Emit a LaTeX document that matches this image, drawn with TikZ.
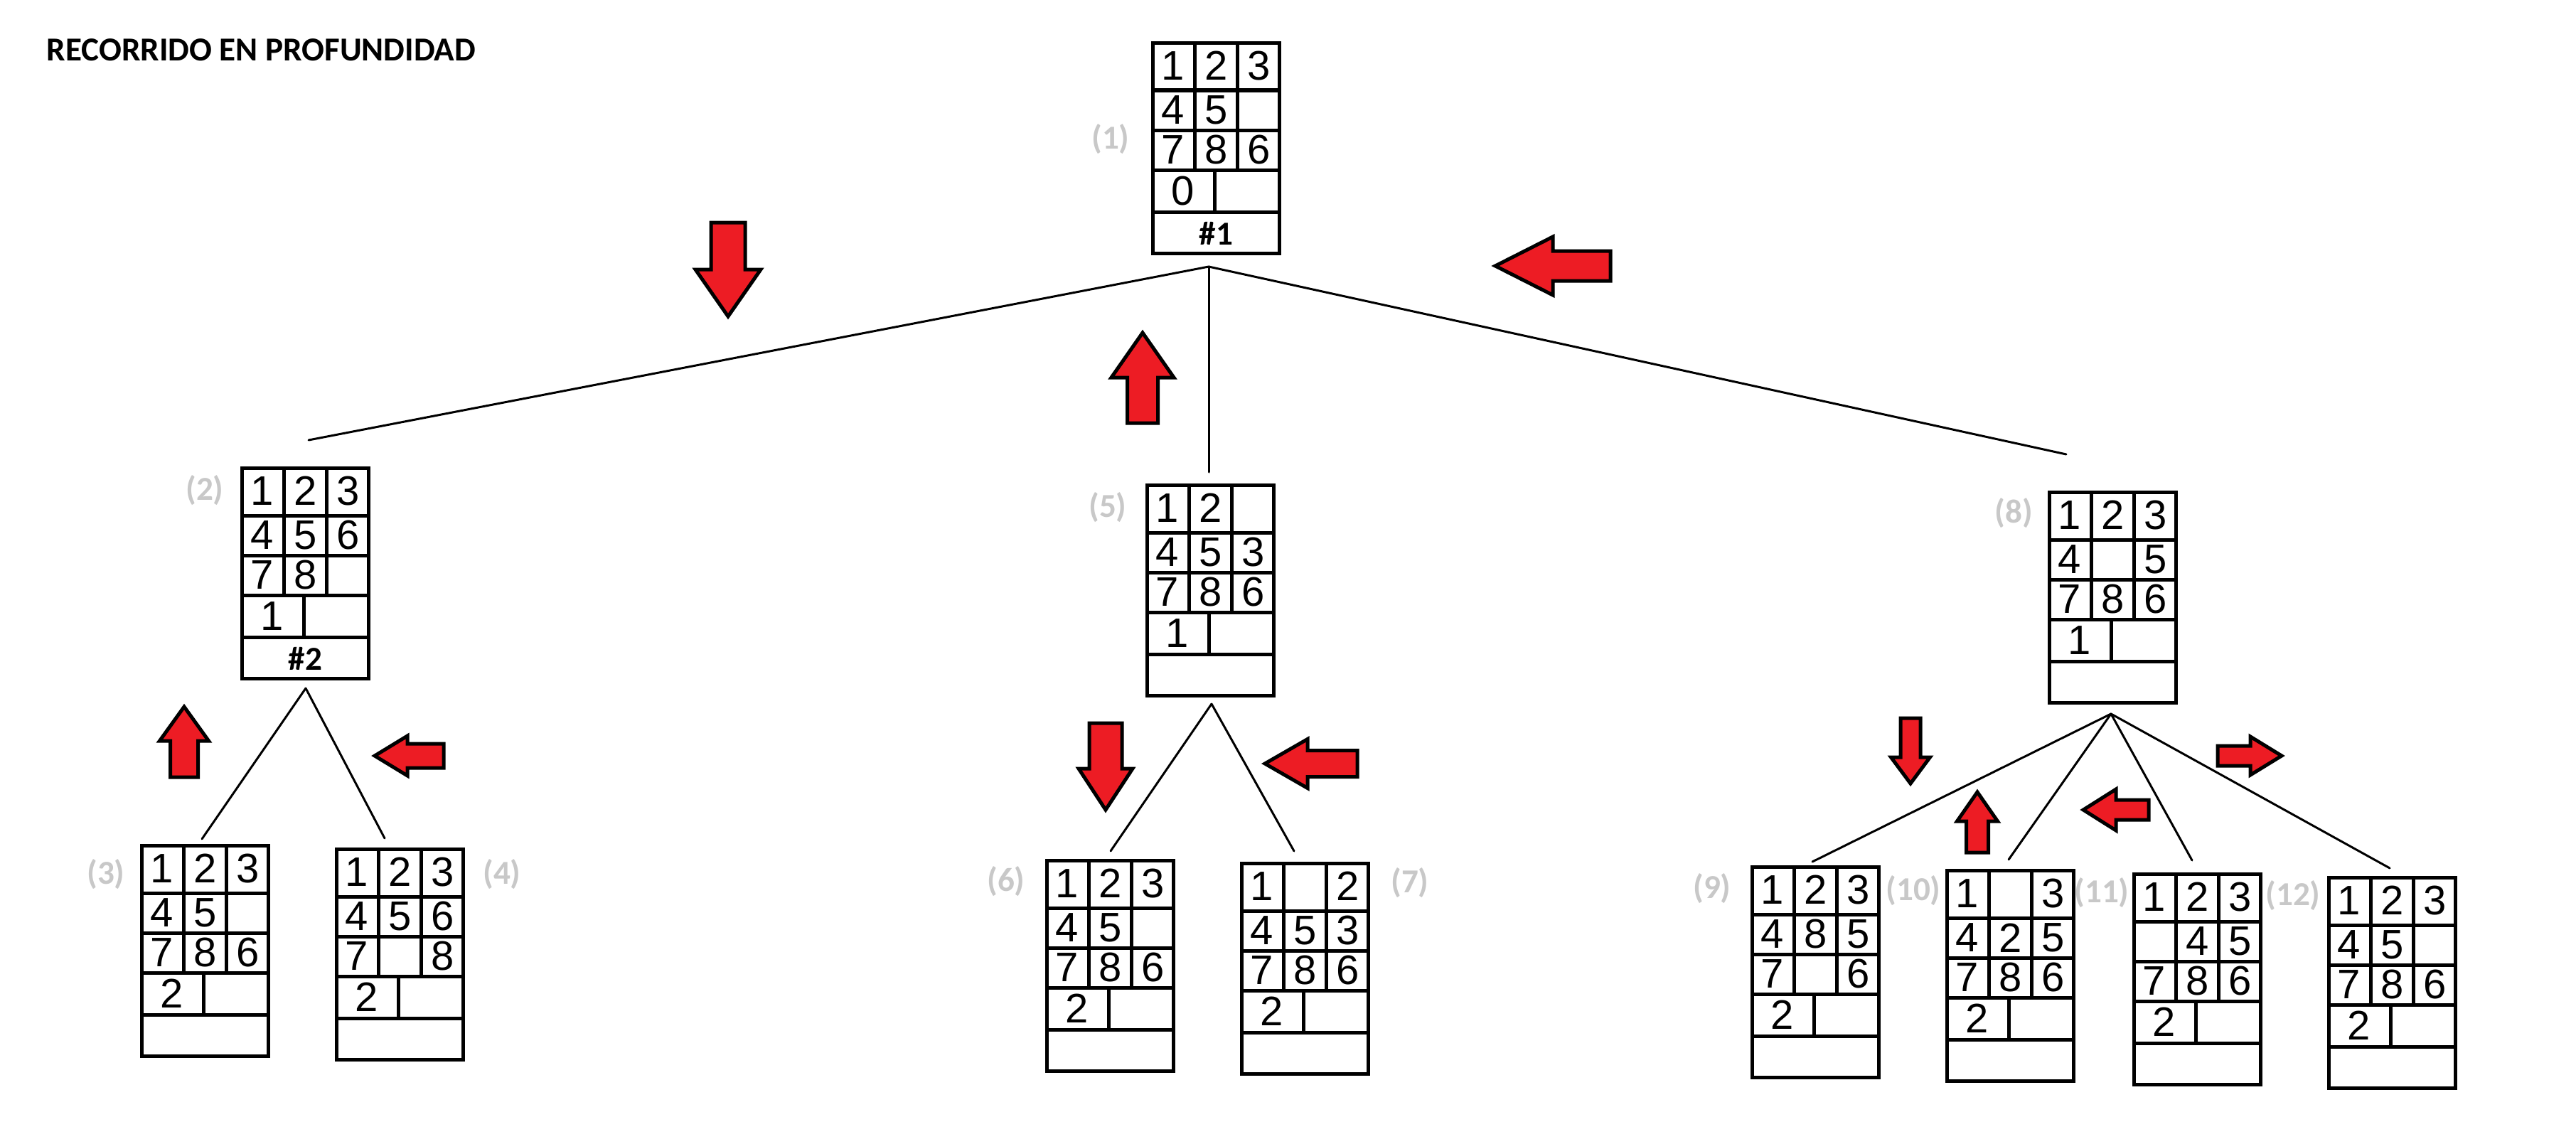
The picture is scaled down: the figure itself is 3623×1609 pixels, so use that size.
\documentclass[tikz,border=0pt]{standalone}
\usepackage{fontspec}
\setmainfont{Carlito}
\newfontfamily\digitfont{Liberation Sans}
\usetikzlibrary{calc}
\definecolor{arrowred}{HTML}{ED1C24}
\definecolor{labelgray}{HTML}{C8C8C8}

\tikzset{
  board/.style={draw, line width=0.05cm, minimum width=1.78cm, minimum height=2.96cm,
                inner sep=0pt, outer sep=0pt, anchor=north west},
  boardline/.style={line width=0.05cm},
  digit/.style={font=\digitfont\fontsize{16.5}{18}\selectfont, inner sep=0pt},
  tag/.style={font=\bfseries\fontsize{13.4}{16}\selectfont, inner sep=0pt},
  lbl/.style={tag, text=labelgray},
  edge/.style={line width=0.03cm, line cap=round},
  redarrowstyle/.style={fill=arrowred, draw=black, line width=0.05cm, line join=miter},
}

% One puzzle state: #1 name, #2 outer top-left corner, #3-#5 rows of the 3x3 grid,
% #6 entry of the lower-left cell
\newcommand\board[6]{%
  \node[board] (#1) at ($#2+(2.5,2.5)$) {};
  \foreach \yy in {66.5,122.5,178.5,237.5}
    \draw[boardline] ($(#1.north west)+(0,\yy)$) -- ++(178,0);
  \foreach \xx in {58.5,118.5}
    \draw[boardline] ($(#1.north west)+(\xx,0)$) -- ++(0,178.5);
  \draw[boardline] ($(#1.north west)+(86.5,178.5)$) -- ++(0,59);
  \foreach \d [count=\i] in {#3}
    \node[digit] (#1-a\i) at ($(#1.north west)+({28+60.75*(\i-1)},32)$) {\d};
  \foreach \d [count=\i] in {#4}
    \node[digit] (#1-b\i) at ($(#1.north west)+({28+60.75*(\i-1)},94.5)$) {\d};
  \foreach \d [count=\i] in {#5}
    \node[digit] (#1-c\i) at ($(#1.north west)+({28+60.75*(\i-1)},150.5)$) {\d};
  \node[digit] (#1-g) at ($(#1.north west)+(42,208)$) {#6};
}

% Block arrow: #1 tip, #2 direction angle, #3 length, #4 head length,
% #5 head width, #6 shaft width
\newcommand\redarrow[6]{%
  \begin{scope}[shift={#1}, rotate=#2]
    \filldraw[redarrowstyle] (0,0) -- (-#4,#5/2) -- (-#4,#6/2) -- (-#3,#6/2)
      -- (-#3,-#6/2) -- (-#4,-#6/2) -- (-#4,-#5/2) -- cycle;
  \end{scope}
}

\begin{document}
\begin{tikzpicture}[x=0.01cm, y=-0.01cm]
  \fill[white] (0,0) rectangle (3623,1609);
  \useasboundingbox (0,0) rectangle (3623,1609);

  \node[tag, anchor=base west] (title) at (65,85) {RECORRIDO EN PROFUNDIDAD};

  % states
  \board{n1}{(1619,58)}{1,2,3}{4,5,{}}{7,8,6}{0}
  \board{n2}{(338,656)}{1,2,3}{4,5,6}{7,8,{}}{1}
  \board{n3}{(197,1187)}{1,2,3}{4,5,{}}{7,8,6}{2}
  \board{n4}{(471,1192)}{1,2,3}{4,5,6}{7,{},8}{2}
  \board{n5}{(1611,680)}{1,2,{}}{4,5,3}{7,8,6}{1}
  \board{n6}{(1470,1208)}{1,2,3}{4,5,{}}{7,8,6}{2}
  \board{n7}{(1744,1212)}{1,{},2}{4,5,3}{7,8,6}{2}
  \board{n8}{(2880,690)}{1,2,3}{4,{},5}{7,8,6}{1}
  \board{n9}{(2462,1217)}{1,2,3}{4,8,5}{7,{},6}{2}
  \board{n10}{(2736,1222)}{1,{},3}{4,2,5}{7,8,6}{2}
  \board{n11}{(2999,1227)}{1,2,3}{{},4,5}{7,8,6}{2}
  \board{n12}{(3273,1232)}{1,2,3}{4,5,{}}{7,8,6}{2}

  \node[tag] (n1-step) at ($(n1.north west)+(89,268)$) {\#1};
  \node[tag] (n2-step) at ($(n2.north west)+(89,268)$) {\#2};

  % state numbers
  \node[lbl] (l1) at (1562,196) {(1)};
  \node[lbl] (l2) at (288,690) {(2)};
  \node[lbl] (l3) at (149,1230) {(3)};
  \node[lbl] (l4) at (706,1230) {(4)};
  \node[lbl] (l5) at (1558,714) {(5)};
  \node[lbl] (l6) at (1415,1240) {(6)};
  \node[lbl] (l7) at (1983,1242) {(7)};
  \node[lbl] (l8) at (2832,722) {(8)};
  \node[lbl] (l9) at (2408,1250) {(9)};
  \node[lbl] (l10) at (2691,1253) {(10)};
  \node[lbl] (l11) at (2956,1256) {(11)};
  \node[lbl] (l12) at (3225,1260) {(12)};

  % tree branches
  \coordinate (p1) at (1700,375);
  \coordinate (t2) at (434,619);
  \coordinate (t5) at (1700,664);
  \coordinate (t8) at (2906,639);
  \coordinate (p2) at (430,968);
  \coordinate (t3) at (284,1180);
  \coordinate (t4) at (541,1179);
  \coordinate (p5) at (1704,990);
  \coordinate (t6) at (1562,1197);
  \coordinate (t7) at (1820,1197);
  \coordinate (p8) at (2969,1004);
  \coordinate (t9) at (2549,1212);
  \coordinate (t10) at (2825,1209);
  \coordinate (t11) at (3083,1210);
  \coordinate (t12) at (3361,1221);

  \draw[edge] (p1) -- (t2);
  \draw[edge] (p1) -- (t5);
  \draw[edge] (p1) -- (t8);
  \draw[edge] (p2) -- (t3);
  \draw[edge] (p2) -- (t4);
  \draw[edge] (p5) -- (t6);
  \draw[edge] (p5) -- (t7);
  \draw[edge] (p8) -- (t9);
  \draw[edge] (p8) -- (t10);
  \draw[edge] (p8) -- (t11);
  \draw[edge] (p8) -- (t12);

  % traversal direction arrows
  \redarrow{(1024,445)}{-90}{132}{66}{92}{48}
  \redarrow{(2103,374)}{180}{162}{81}{82}{42}
  \redarrow{(1607,468)}{90}{127}{63}{88}{43}
  \redarrow{(259,994)}{90}{99}{48}{69}{39}
  \redarrow{(527,1063)}{180}{97}{46}{56}{34}
  \redarrow{(1555,1139)}{-90}{122}{58}{76}{46}
  \redarrow{(1779,1074)}{180}{130}{60}{69}{37}
  \redarrow{(2687,1102)}{-90}{92}{37}{55}{28}
  \redarrow{(2781,1114)}{90}{85}{41}{57}{31}
  \redarrow{(2930,1139)}{180}{92}{46}{58}{28}
  \redarrow{(3209,1063)}{0}{90}{44}{54}{28}
\end{tikzpicture}
\end{document}
